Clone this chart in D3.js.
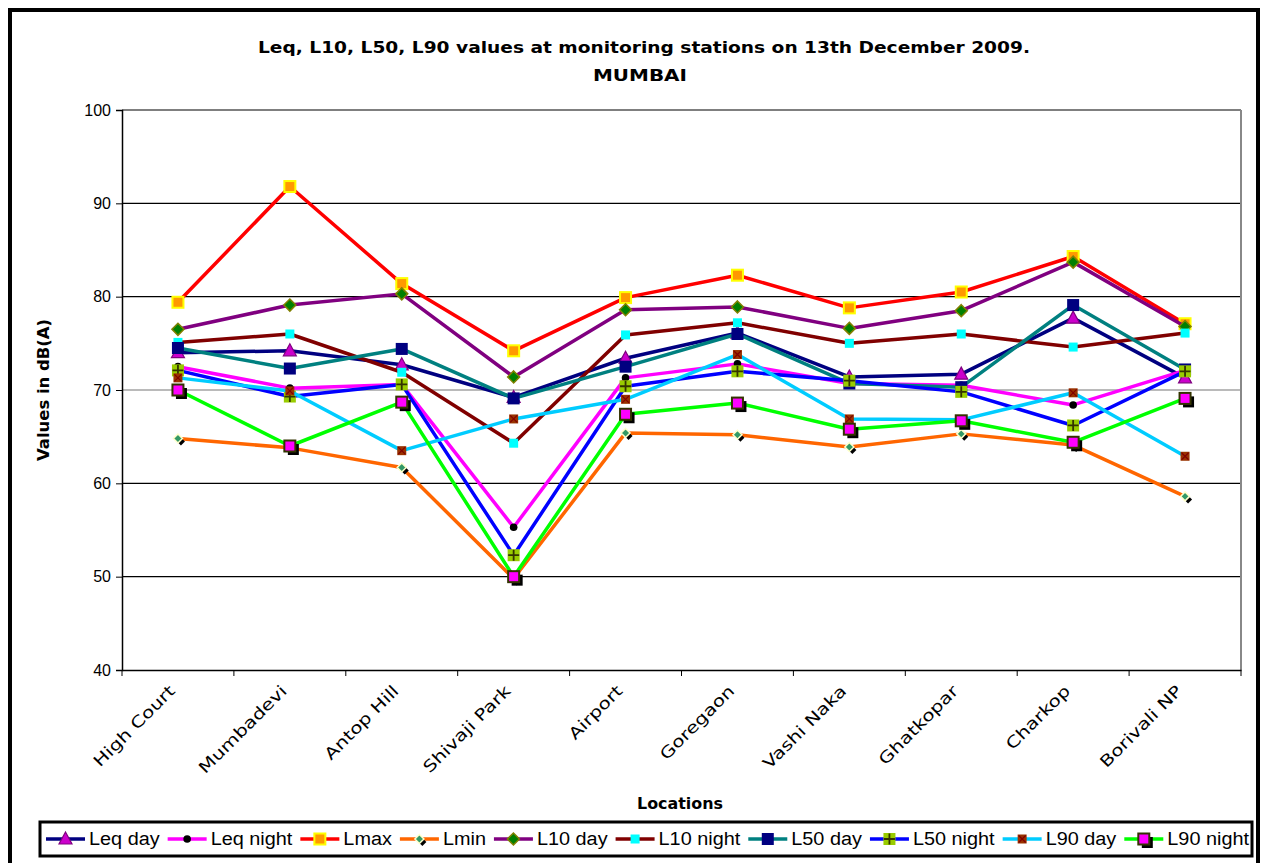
<!DOCTYPE html>
<html>
<head>
<meta charset="utf-8">
<script src="https://cdn.jsdelivr.net/npm/d3@7"></script>
<style>
  html, body { margin: 0; padding: 0; background: #fff; }
  svg { display: block; }
</style>
</head>
<body>
<svg id="chart" width="1263" height="863"></svg>
<script>
const categories = ["High Court", "Mumbadevi", "Antop Hill", "Shivaji Park", "Airport", "Goregaon", "Vashi Naka", "Ghatkopar", "Charkop", "Borivali NP"];
const leqDay   = [74.0, 74.2, 72.7, 69.2, 73.4, 76.1, 71.4, 71.7, 77.7, 71.3];
const leqNight = [72.5, 70.2, 70.6, 55.3, 71.3, 72.8, 70.7, 70.5, 68.4, 72.1];
const lmax     = [79.4, 91.8, 81.4, 74.2, 79.9, 82.3, 78.8, 80.5, 84.3, 77.1];
const lmin     = [64.8, 63.8, 61.7, 49.8, 65.4, 65.2, 63.9, 65.3, 64.1, 58.6];
const l10Day   = [76.5, 79.1, 80.3, 71.4, 78.6, 78.9, 76.6, 78.5, 83.7, 76.8];
const l10Night = [75.1, 76.0, 71.9, 64.3, 75.9, 77.2, 75.0, 76.0, 74.6, 76.1];
const l50Day   = [74.5, 72.3, 74.4, 69.1, 72.5, 76.0, 70.7, 70.3, 79.1, 72.2];
const l50Night = [72.1, 69.3, 70.6, 52.3, 70.4, 72.0, 71.0, 69.8, 66.2, 72.0];
const l90Day   = [71.3, 69.9, 63.5, 66.9, 69.0, 73.8, 66.9, 66.8, 69.7, 62.9];
const l90Night = [70.0, 64.0, 68.7, 50.0, 67.4, 68.6, 65.8, 66.7, 64.4, 69.1];
const yTicks = [40, 50, 60, 70, 80, 90, 100];
const titleLines = ["Leq, L10, L50, L90 values at monitoring stations on 13th December 2009.", "MUMBAI"];
const yTitle = "Values in dB(A)";
const xTitle = "Locations";

const series = [
  { name: "Leq day",   values: leqDay,   color: "#000080", marker: "triangle" },
  { name: "Leq night", values: leqNight, color: "#FF00FF", marker: "dot" },
  { name: "Lmax",      values: lmax,     color: "#FF0000", marker: "sqOrange" },
  { name: "Lmin",      values: lmin,     color: "#FF6600", marker: "smallDiamond" },
  { name: "L10 day",   values: l10Day,   color: "#800080", marker: "diamond" },
  { name: "L10 night", values: l10Night, color: "#800000", marker: "sqCyan" },
  { name: "L50 day",   values: l50Day,   color: "#008080", marker: "sqNavy" },
  { name: "L50 night", values: l50Night, color: "#0000FF", marker: "sqPlus" },
  { name: "L90 day",   values: l90Day,   color: "#00CCFF", marker: "sqX" },
  { name: "L90 night", values: l90Night, color: "#00FF00", marker: "sqMagenta" }
];

const svg = d3.select("#chart");
const plot = { left: 122, right: 1241, top: 110, bottom: 670 };

const x = d3.scaleBand().domain(categories).range([plot.left, plot.right]);
const y = d3.scaleLinear().domain([40, 100]).range([plot.bottom, plot.top]);
const cx = c => x(c) + x.bandwidth() / 2;

// outer border
svg.append("rect").attr("x", 10).attr("y", 10).attr("width", 1248).attr("height", 900)
  .attr("fill", "#fff").attr("stroke", "#000").attr("stroke-width", 4);

// title
svg.append("text").attr("x", 644).attr("y", 53).attr("text-anchor", "middle")
  .attr("font-family", "DejaVu Sans").attr("font-weight", "bold").attr("font-size", 16)
  .attr("textLength", 772).attr("lengthAdjust", "spacingAndGlyphs").text(titleLines[0]);
svg.append("text").attr("x", 640).attr("y", 81).attr("text-anchor", "middle")
  .attr("font-family", "DejaVu Sans").attr("font-weight", "bold").attr("font-size", 16)
  .attr("textLength", 94).attr("lengthAdjust", "spacingAndGlyphs").text(titleLines[1]);

// gridlines
svg.append("g").selectAll("line").data(yTicks.filter(t => t > 40)).join("line")
  .attr("x1", plot.left).attr("x2", plot.right)
  .attr("y1", d => y(d)).attr("y2", d => y(d))
  .attr("stroke", d => d === 70 ? "#777" : "#000").attr("stroke-width", 1.2);

// right border of plot
svg.append("line").attr("x1", plot.right).attr("x2", plot.right).attr("y1", plot.top).attr("y2", plot.bottom)
  .attr("stroke", "#888").attr("stroke-width", 2);

// y axis
const yAxis = svg.append("g").attr("transform", `translate(${plot.left},0)`)
  .call(d3.axisLeft(y).tickValues(yTicks).tickSize(6).tickPadding(5).tickFormat(d3.format("d")));
yAxis.select(".domain").attr("stroke", "#000").attr("stroke-width", 1.5);
yAxis.selectAll(".tick line").attr("stroke", "#000");
yAxis.selectAll("text").attr("font-family", "Liberation Sans").attr("font-size", 16).attr("fill", "#000");

// x axis
const xAxis = svg.append("g").attr("transform", `translate(0,${plot.bottom})`)
  .call(d3.axisBottom(x).tickSize(0).tickPadding(0));
xAxis.select(".domain").attr("stroke", "#000").attr("stroke-width", 1.5);
xAxis.selectAll(".tick text")
  .attr("font-family", "DejaVu Sans").attr("font-size", 16).attr("fill", "#000")
  .attr("text-anchor", "end").attr("dy", 0)
  .attr("transform", "translate(-2,22) rotate(-45)")
  .each(function () {
    const w = this.getComputedTextLength() * 1.25;
    d3.select(this).attr("textLength", w).attr("lengthAdjust", "spacingAndGlyphs");
  });
// boundary ticks
const bounds = categories.map(c => x(c)).concat([plot.right]);
svg.append("g").selectAll("line").data(bounds).join("line")
  .attr("x1", d => d).attr("x2", d => d).attr("y1", plot.bottom).attr("y2", plot.bottom + 6)
  .attr("stroke", "#000").attr("stroke-width", 1);

// axis titles
svg.append("text").attr("transform", "translate(49,390) rotate(-90)").attr("text-anchor", "middle")
  .attr("font-family", "DejaVu Sans").attr("font-weight", "bold").attr("font-size", 15)
  .attr("textLength", 142).attr("lengthAdjust", "spacingAndGlyphs").text(yTitle);
svg.append("text").attr("x", 680).attr("y", 809).attr("text-anchor", "middle")
  .attr("font-family", "DejaVu Sans").attr("font-weight", "bold").attr("font-size", 15)
  .attr("textLength", 86).attr("lengthAdjust", "spacingAndGlyphs").text(xTitle);

// marker drawing
function drawMarker(g, type, px, py) {
  const m = g.append("g").attr("transform", `translate(${px},${py})`);
  switch (type) {
    case "triangle":
      m.append("path").attr("d", "M0,-7L6.5,5L-6.5,5Z").attr("fill", "#CC00CC").attr("stroke", "#800080").attr("stroke-width", 1.2);
      break;
    case "dot":
      m.append("circle").attr("r", 3.8).attr("fill", "#000");
      break;
    case "sqOrange":
      m.append("rect").attr("x", -5.5).attr("y", -5.5).attr("width", 11).attr("height", 11)
        .attr("fill", "#FF9900").attr("stroke", "#FFFF00").attr("stroke-width", 2);
      break;
    case "smallDiamond":
      m.append("path").attr("d", "M3,-1L7,3L3,7L-1,3Z").attr("fill", "#000");
      m.append("path").attr("d", "M0,-4.5L4.5,0L0,4.5L-4.5,0Z").attr("fill", "#339966").attr("stroke", "#FFFFCC").attr("stroke-width", 1.5);
      break;
    case "diamond":
      m.append("path").attr("d", "M0,-6L6,0L0,6L-6,0Z").attr("fill", "#008000").attr("stroke", "#808000").attr("stroke-width", 1.5);
      break;
    case "sqCyan":
      m.append("rect").attr("x", -4.5).attr("y", -4.5).attr("width", 9).attr("height", 9).attr("fill", "#00FFFF");
      break;
    case "sqNavy":
      m.append("rect").attr("x", -6).attr("y", -6).attr("width", 12).attr("height", 12).attr("fill", "#000080");
      break;
    case "sqPlus":
      m.append("rect").attr("x", -6).attr("y", -6).attr("width", 12).attr("height", 12).attr("fill", "#99CC00");
      m.append("path").attr("d", "M0,-5.5V5.5M-5.5,0H5.5").attr("stroke", "#333300").attr("stroke-width", 1.8);
      break;
    case "sqX":
      m.append("rect").attr("x", -4.5).attr("y", -4.5).attr("width", 9).attr("height", 9).attr("fill", "#993300");
      m.append("path").attr("d", "M-3.5,-3.5L3.5,3.5M3.5,-3.5L-3.5,3.5").attr("stroke", "#800000").attr("stroke-width", 1.2);
      break;
    case "sqMagenta":
      m.append("rect").attr("x", -2).attr("y", -2).attr("width", 11).attr("height", 11).attr("fill", "#000");
      m.append("rect").attr("x", -5.5).attr("y", -5.5).attr("width", 11).attr("height", 11)
        .attr("fill", "#FF00FF").attr("stroke", "#333300").attr("stroke-width", 2);
      break;
  }
}

// lines and markers
const line = d3.line().x((d, i) => cx(categories[i])).y(d => y(d));
series.forEach(s => {
  const g = svg.append("g");
  g.append("path").datum(s.values).attr("d", line)
    .attr("fill", "none").attr("stroke", s.color).attr("stroke-width", 3.5).attr("stroke-linejoin", "round");
  s.values.forEach((v, i) => drawMarker(g, s.marker, cx(categories[i]), y(v)));
});

// legend
const lg = svg.append("g");
lg.append("rect").attr("x", 40).attr("y", 822).attr("width", 1212).attr("height", 34)
  .attr("fill", "#fff").attr("stroke", "#000").attr("stroke-width", 3);
const ly = 839;
const legendStart = 46, legendEnd = 1249, lineW = 39, gapA = 4, gapB = 8;
const items = series.map(s => {
  const item = lg.append("g");
  const t = item.append("text").attr("y", ly + 6)
    .attr("font-family", "Liberation Sans").attr("font-size", 18).attr("fill", "#000").text(s.name);
  return { s, item, t, w: t.node().getComputedTextLength() };
});
const natural = d3.sum(items, d => d.w);
const fixed = items.length * (lineW + gapA) + (items.length - 1) * gapB;
const factor = (legendEnd - legendStart - fixed) / natural;
let lx = legendStart;
items.forEach(d => {
  d.item.insert("line", "text").attr("x1", lx).attr("x2", lx + lineW).attr("y1", ly).attr("y2", ly)
    .attr("stroke", d.s.color).attr("stroke-width", 3.5);
  drawMarker(d.item, d.s.marker, lx + lineW / 2, ly);
  const w = d.w * factor;
  d.t.attr("x", lx + lineW + gapA).attr("textLength", w).attr("lengthAdjust", "spacingAndGlyphs");
  lx += lineW + gapA + w + gapB;
});
</script>
</body>
</html>
